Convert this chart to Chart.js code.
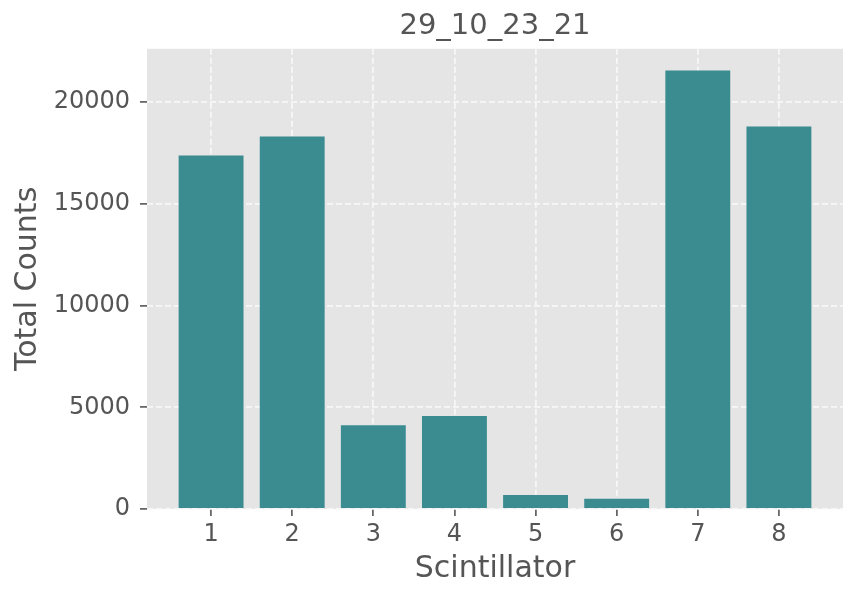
<!DOCTYPE html>
<html>
<head>
<meta charset="utf-8">
<script src="https://cdn.jsdelivr.net/npm/chart.js@4/dist/chart.umd.min.js"></script>
<style>
  html, body { margin: 0; padding: 0; background: #fff; }
  #wrap { width: 858px; height: 601px; position: relative; }
</style>
</head>
<body>
<div id="wrap"><canvas id="countsChart"></canvas></div>
<script>
// data
const scintillators = [1, 2, 3, 4, 5, 6, 7, 8];
const totalCounts = [17380, 18310, 4120, 4570, 690, 500, 21550, 18800];
const yTicks = [0, 5000, 10000, 15000, 20000];
const chartTitle = '29_10_23_21';

const textGray = '#555555';
const barColor = '#3a8c91';

// grey panel behind the plot, ggplot style
const panelBg = {
    id: 'panelBg',
    beforeDraw(chart) {
        const a = chart.chartArea;
        const c = chart.ctx;
        c.save();
        c.fillStyle = '#e5e5e5';
        c.fillRect(a.left, a.top, a.right - a.left, a.bottom - a.top);
        c.restore();
    }
};

const ctx = document.getElementById('countsChart').getContext('2d');

new Chart(ctx, {
    type: 'bar',
    data: {
        datasets: [{
            label: 'Total Counts',
            data: scintillators.map((s, i) => ({ x: s, y: totalCounts[i] })),
            backgroundColor: barColor,
            borderWidth: 0,
            categoryPercentage: 1.0,
            barPercentage: 0.8
        }]
    },
    options: {
        responsive: true,
        maintainAspectRatio: false,
        animation: false,
        layout: {
            padding: { left: 0, right: 15, top: 0, bottom: 0 }
        },
        plugins: {
            legend: { display: false },
            tooltip: { enabled: false },
            title: {
                display: true,
                fullSize: false,
                text: chartTitle,
                color: textGray,
                font: { family: 'DejaVu Sans', size: 29, weight: 'normal', lineHeight: 1.2 },
                padding: { top: 9, bottom: 5 }
            }
        },
        scales: {
            x: {
                type: 'linear',
                offset: false,
                min: 0.21,
                max: 8.79,
                afterBuildTicks: (scale) => {
                    scale.ticks = scintillators.map(v => ({ value: v }));
                },
                afterFit: (scale) => { scale.height = 92; },
                ticks: {
                    color: textGray,
                    font: { family: 'DejaVu Sans', size: 24 },
                    padding: 4,
                    maxRotation: 0,
                    callback: (v) => String(v)
                },
                grid: {
                    offset: false,
                    color: '#f7f7f7',
                    lineWidth: 1.8,
                    tickLength: 7,
                    tickColor: textGray,
                    tickWidth: 1.6
                },
                border: { display: false, dash: [6, 3] },
                title: {
                    display: true,
                    text: 'Scintillator',
                    color: textGray,
                    font: { family: 'DejaVu Sans', size: 30, lineHeight: 1.2 },
                    padding: { top: 0, bottom: 14 }
                }
            },
            y: {
                min: 0,
                max: 22620,
                afterBuildTicks: (scale) => {
                    scale.ticks = yTicks.map(v => ({ value: v }));
                },
                afterFit: (scale) => { scale.width = 147; },
                ticks: {
                    color: textGray,
                    font: { family: 'DejaVu Sans', size: 24 },
                    padding: 10,
                    callback: (v) => String(v)
                },
                grid: {
                    color: '#f7f7f7',
                    lineWidth: 1.8,
                    tickLength: 7,
                    tickColor: textGray,
                    tickWidth: 1.6
                },
                border: { display: false, dash: [6, 3] },
                title: {
                    display: true,
                    text: 'Total Counts',
                    color: textGray,
                    font: { family: 'DejaVu Sans', size: 30, lineHeight: 1.2 },
                    padding: { top: 10, bottom: 0 }
                }
            }
        }
    },
    plugins: [panelBg]
});
</script>
</body>
</html>
